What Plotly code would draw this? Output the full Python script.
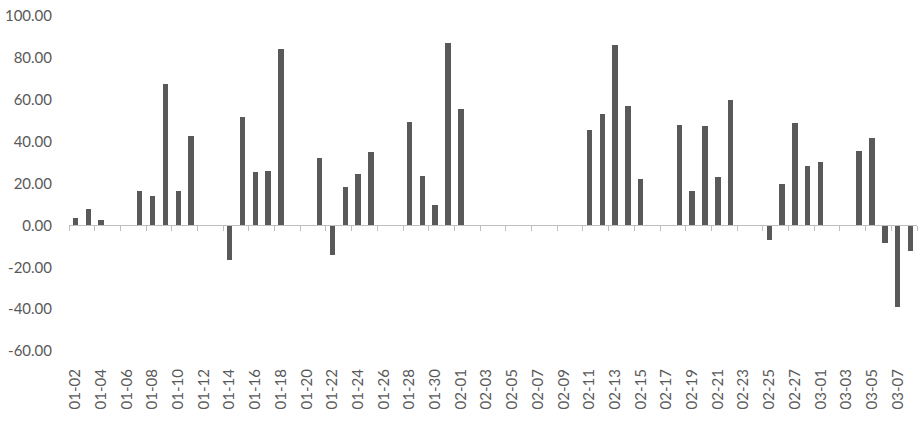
import plotly.graph_objects as go
import pandas as pd

categories = list(pd.date_range("2021-01-02", "2021-03-08").strftime("%m-%d"))
values = [
    3.5, 8.0, 2.7, 0, 0, 16.5, 14.2, 67.6, 16.5, 42.8,      # 01-02 .. 01-11
    0, 0, -16.7, 51.9, 25.6, 26.1, 84.3, 0, 0, 32.3,         # 01-12 .. 01-21
    -14.0, 18.5, 24.7, 35.2, 0, 0, 49.5, 23.7, 9.9, 86.9,    # 01-22 .. 01-31
    55.7, 0, 0, 0, 0, 0, 0, 0, 0, 0,                         # 02-01 .. 02-10
    45.7, 53.3, 86.2, 57.1, 22.3, 0, 0, 48.1, 16.5, 47.6,    # 02-11 .. 02-20
    23.2, 60.0, 0, 0, -6.8, 19.9, 49.0, 28.5, 30.4, 0,       # 02-21 .. 03-02
    0, 35.6, 41.8, -8.3, -39.1, -12.1,                       # 03-03 .. 03-08
]
y_ticks = [-60, -40, -20, 0, 20, 40, 60, 80, 100]
y_range = [-60, 100]

n = len(categories)
idx = list(range(n))
tick_labels = categories[::2]

fig = go.Figure()
fig.add_trace(go.Bar(
    x=idx, y=values, width=0.42,
    marker=dict(color="#595959", line=dict(width=0)),
    xaxis="x", yaxis="y", hoverinfo="x+y",
))
# invisible trace to carry the label axis
fig.add_trace(go.Scatter(
    x=idx, y=[0] * n, mode="markers", marker=dict(opacity=0),
    xaxis="x2", yaxis="y", hoverinfo="skip", showlegend=False,
))

zero_pos = (0 - y_range[0]) / (y_range[1] - y_range[0])
text_color = "#595959"
font_family = "Lato, Carlito, Calibri, sans-serif"

fig.update_layout(
    width=924, height=421,
    margin=dict(l=69, r=7, t=16, b=70, autoexpand=False),
    paper_bgcolor="white", plot_bgcolor="white",
    showlegend=False,
    font=dict(family=font_family, color=text_color, size=15),
    xaxis=dict(
        range=[-0.5, n - 0.5], automargin=False,
        anchor="free", position=zero_pos,
        showline=True, linecolor="#bfbfbf", linewidth=1,
        ticks="outside", ticklen=5, tickcolor="#bfbfbf", tickwidth=1,
        tickmode="array", tickvals=[i - 0.5 for i in range(0, n + 1, 2)],
        showticklabels=False, showgrid=False, zeroline=False,
    ),
    xaxis2=dict(
        range=[-0.5, n - 0.5], overlaying="x", anchor="y", side="bottom",
        automargin=False, ticklabeloverflow="allow",
        showline=False, ticks="", showgrid=False, zeroline=False,
        tickmode="array", tickvals=idx[::2], ticktext=tick_labels,
        tickangle=-90, ticklabelstandoff=14,
        tickfont=dict(size=15, color=text_color, family=font_family),
    ),
    yaxis=dict(
        range=y_range, tickmode="array", tickvals=y_ticks, automargin=False,
        ticktext=[f"{v:.2f}" for v in y_ticks], ticklabeloverflow="allow",
        showgrid=False, zeroline=False, showline=False, ticks="",
        ticklabelstandoff=16,
        tickfont=dict(size=15, color=text_color, family=font_family),
    ),
    bargap=0,
)

# remove the browser's default 8px body margin so the figure fills the window
fig.write_html(
    "out.html",
    config={"displayModeBar": False},
    post_script="document.body.style.margin='0px';",
)
